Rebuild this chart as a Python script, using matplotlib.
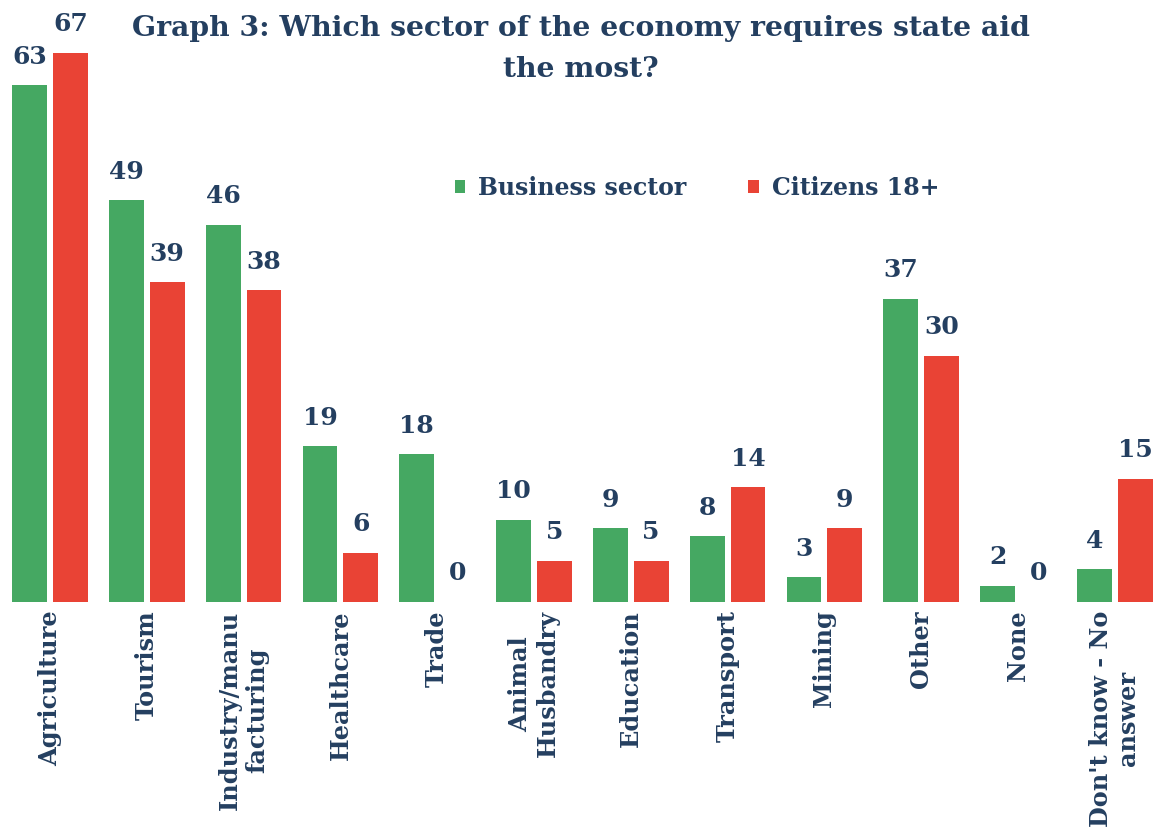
import matplotlib
matplotlib.use("Agg")
import matplotlib.pyplot as plt
import numpy as np

categories = ["Agriculture", "Tourism", "Industry/manu\nfacturing", "Healthcare", "Trade",
              "Animal\nHusbandry", "Education", "Transport", "Mining", "Other", "None",
              "Don't know - No\nanswer"]
business = [63, 49, 46, 19, 18, 10, 9, 8, 3, 37, 2, 4]
citizens = [67, 39, 38, 6, 0, 5, 5, 14, 9, 30, 0, 15]
series_names = ["Business sector", "Citizens 18+"]

navy = "#243F60"
green = "#45A862"
red = "#E94335"
font = "DejaVu Serif"

fig = plt.figure(figsize=(11.61, 8.32), dpi=100)
ax = fig.add_axes([0, 230/832, 1, 602/832])

x = np.arange(len(categories))
w = 0.36
off = 0.21
b1 = ax.bar(x - off, business, w, color=green, label=series_names[0])
b2 = ax.bar(x + off, citizens, w, color=red, label=series_names[1])

for bars, vals in ((b1, business), (b2, citizens)):
    for rect, v in zip(bars, vals):
        ax.annotate(str(v), (rect.get_x() + rect.get_width()/2, v),
                    xytext=(0, 12), textcoords="offset points",
                    ha="center", va="bottom", fontsize=18, fontweight="bold",
                    color=navy, family=font)

ax.set_xlim(-50/96.8, (1161-50)/96.8)
ax.set_ylim(0, 602/8.2)
ax.set_xticks(x)
ax.set_xticklabels(categories, rotation=90, ha="center", va="top", ma="center",
                   fontsize=17.3, fontweight="bold", color=navy, family=font,
                   linespacing=1.15)
ax.tick_params(axis="x", length=0, pad=6)
ax.set_yticks([])
for s in ax.spines.values():
    s.set_visible(False)

fig.text(0.5, 0.941, "Graph 3: Which sector of the economy requires state aid\nthe most?",
         ha="center", va="center", fontsize=20.3, fontweight="bold", color=navy,
         family=font, linespacing=1.65)

leg = fig.legend(handles=[b1, b2], loc="center", bbox_to_anchor=(697/1161, 1-188/832),
                 ncol=2, frameon=False, handlelength=0.45, handleheight=0.45,
                 columnspacing=2.6, handletextpad=0.55,
                 prop={"family": font, "weight": "bold", "size": 17})
for t in leg.get_texts():
    t.set_color(navy)

fig.savefig("out.png", dpi=100)
